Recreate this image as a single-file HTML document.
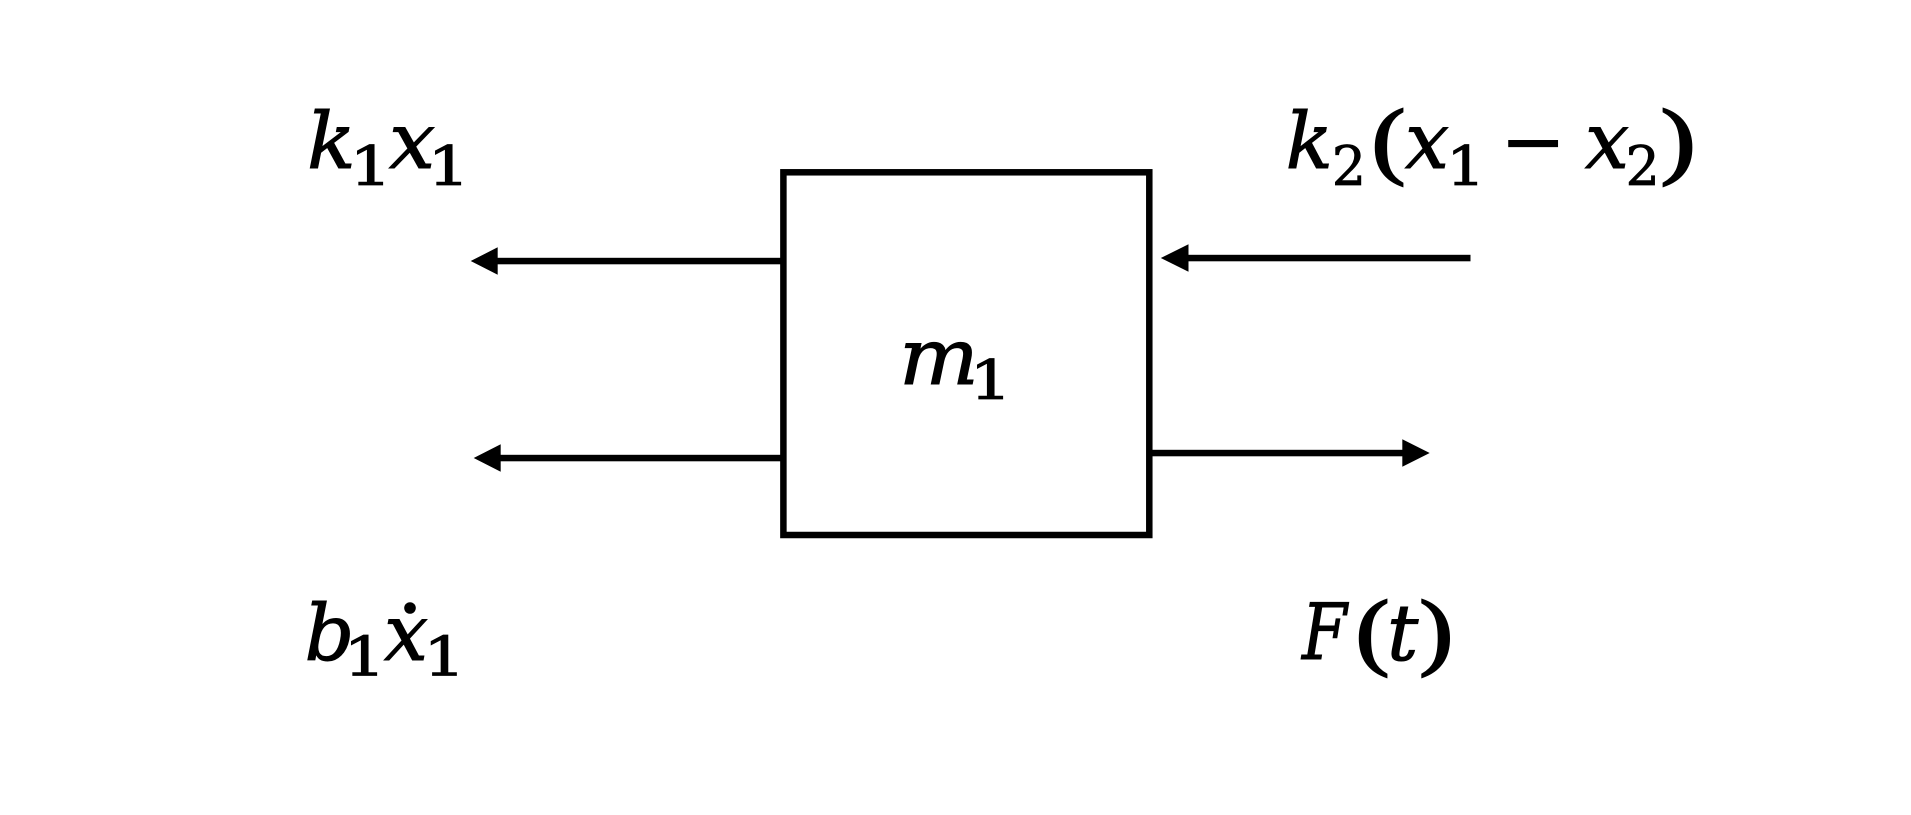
<!DOCTYPE html>
<html>
<head>
<meta charset="utf-8">
<style>
html,body{margin:0;padding:0;background:#fff;width:1911px;height:815px;overflow:hidden}
svg{display:block}
text{fill:#000;stroke:#000}
.i{font:italic 78px "DejaVu Serif",serif;stroke-width:1}
.s{font:54px "DejaVu Serif",serif;stroke-width:.8}
.p{font:86px "DejaVu Serif",serif;stroke-width:.6}
.m{font:78px "DejaVu Serif",serif;stroke-width:1}
</style>
</head>
<body>
<svg width="1911" height="815" viewBox="0 0 1911 815" xmlns="http://www.w3.org/2000/svg">
<rect x="783.4" y="172.3" width="365.9" height="362.7" fill="#fff" stroke="#000" stroke-width="6.5"/>
<rect x="497" y="257.8" width="284" height="6.5"/>
<polygon points="470.7,261 497.7,247.3 497.7,274.7"/>
<rect x="1188" y="254.8" width="282.5" height="6.5"/>
<polygon points="1160.8,258 1188.5,244.3 1188.5,271.7"/>
<rect x="500" y="454.8" width="281" height="6.5"/>
<polygon points="473.7,458 500.7,444.3 500.7,471.7"/>
<rect x="1152" y="449.8" width="251" height="6.5"/>
<polygon points="1429.7,453 1402.3,439.3 1402.3,466.7"/>

<text class="i" transform="translate(307,168) scale(1.03,1)">k</text>
<text class="s" transform="translate(349.3,185) scale(1.25,1)">1</text>
<text class="i" transform="translate(389,168) scale(1.05,1)">x</text>
<text class="s" transform="translate(427.3,185) scale(1.25,1)">1</text>

<text class="i" x="1285.6" y="168">k</text>
<text class="s" x="1331.7" y="185">2</text>
<text class="p" transform="translate(1366,173.5) scale(1.35,1)">(</text>
<text class="i" x="1405" y="168">x</text>
<text class="s" transform="translate(1446,185) scale(1.15,1)">1</text>
<text class="m" x="1500.5" y="168">−</text>
<text class="i" x="1585" y="168">x</text>
<text class="s" x="1625.5" y="185">2</text>
<text class="p" transform="translate(1654.5,173.5) scale(1.4,1)">)</text>

<text class="i" transform="translate(899,384) scale(1.08,1)">m</text>
<text class="s" transform="translate(969.3,399) scale(1.25,1)">1</text>

<text class="i" x="304.5" y="660">b</text>
<text class="s" transform="translate(343.3,675.7) scale(1.25,1)">1</text>
<text class="i" x="384" y="660">x</text>
<circle cx="410" cy="608" r="5.8"/>
<text class="s" transform="translate(423,675.7) scale(1.25,1)">1</text>

<text class="i" transform="translate(1302,659) scale(.83,1)">F</text>
<text class="p" transform="translate(1350,664.5) scale(1.35,1)">(</text>
<text class="i" x="1387" y="660">t</text>
<text class="p" transform="translate(1413.5,664.5) scale(1.35,1)">)</text>
</svg>
</body>
</html>
